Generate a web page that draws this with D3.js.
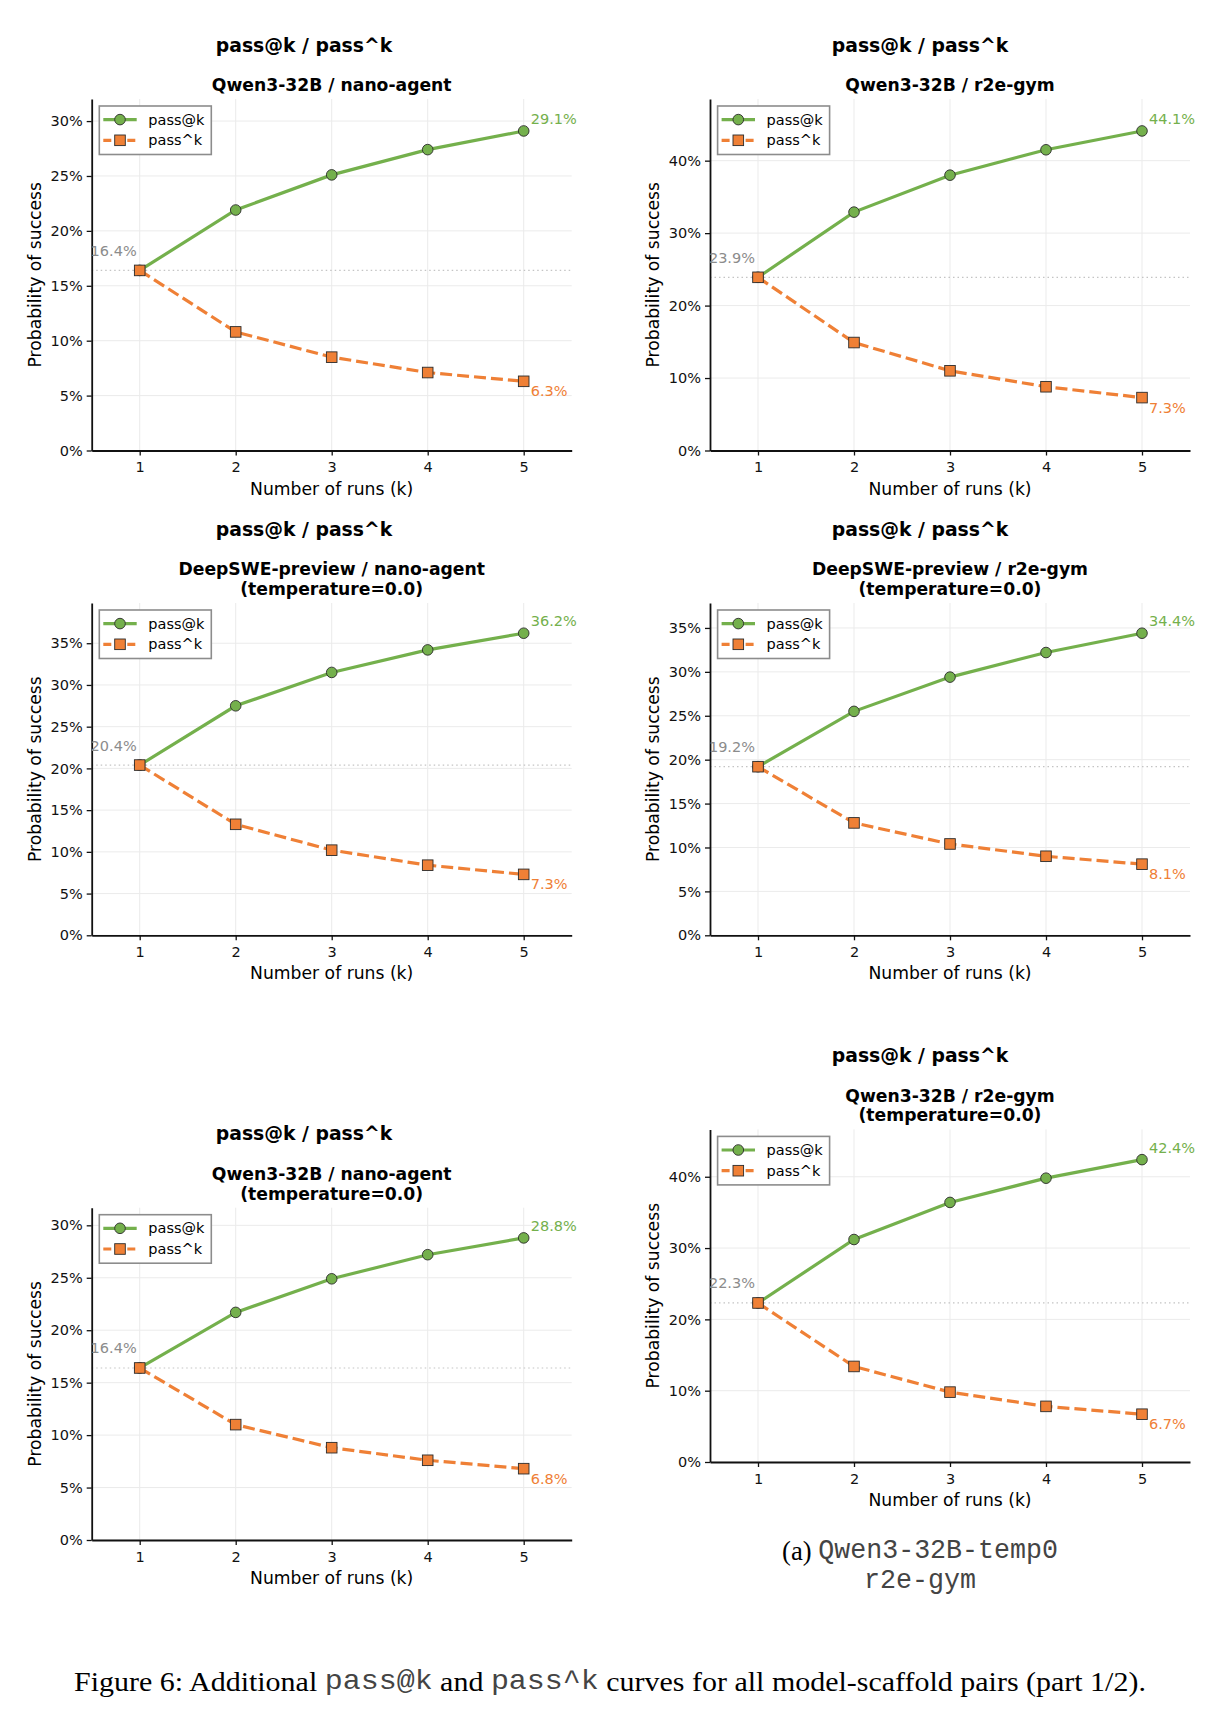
<!DOCTYPE html>
<html lang="en">
<head>
    <meta charset="UTF-8">
    <title>pass@k / pass^k curves</title>
    <style>
        body { margin: 0; background: #fff; }
        svg text { font-family: "DejaVu Sans", sans-serif; }
        .grid line { stroke: #ebebeb; stroke-width: 1px; }
        .axis path, .axis line { stroke: #111; }
        .axis path { stroke-width: 1.8px; }
        .axis line { stroke-width: 1.3px; }
        .axis text { font-size: 14.5px; fill: #111; font-family: "DejaVu Sans", sans-serif; }
        .serif { font-family: "Liberation Serif", serif !important; }
        .mono { font-family: "Liberation Mono", monospace !important; fill: #444; }
    </style>
</head>
<body>
    <svg id="fig" width="1217" height="1715"></svg>

    <script src="https://d3js.org/d3.v7.min.js"></script>
    <script>
        // values (percent)
        const ks = [1, 2, 3, 4, 5];

        const passAtQwenNano = [16.4, 21.9, 25.1, 27.4, 29.1];
        const passHatQwenNano = [16.4, 10.8, 8.5, 7.1, 6.3];

        const passAtQwenR2e = [23.9, 32.9, 38.0, 41.5, 44.1];
        const passHatQwenR2e = [23.9, 14.9, 11.0, 8.8, 7.3];

        const passAtDeepNanoT0 = [20.4, 27.5, 31.5, 34.2, 36.2];
        const passHatDeepNanoT0 = [20.4, 13.3, 10.2, 8.4, 7.3];

        const passAtDeepR2eT0 = [19.2, 25.5, 29.4, 32.2, 34.4];
        const passHatDeepR2eT0 = [19.2, 12.8, 10.4, 9.0, 8.1];

        const passAtQwenNanoT0 = [16.4, 21.7, 24.9, 27.2, 28.8];
        const passHatQwenNanoT0 = [16.4, 11.0, 8.8, 7.6, 6.8];

        const passAtQwenR2eT0 = [22.3, 31.2, 36.4, 39.8, 42.4];
        const passHatQwenR2eT0 = [22.3, 13.4, 9.8, 7.8, 6.7];

        const panelTitles = [
            ["Qwen3-32B / nano-agent"],
            ["Qwen3-32B / r2e-gym"],
            ["DeepSWE-preview / nano-agent", "(temperature=0.0)"],
            ["DeepSWE-preview / r2e-gym", "(temperature=0.0)"],
            ["Qwen3-32B / nano-agent", "(temperature=0.0)"],
            ["Qwen3-32B / r2e-gym", "(temperature=0.0)"]
        ];
        const yTickSteps = [5, 10, 5, 5, 5, 10];
        const seriesNames = ["pass@k", "pass^k"];

        const series = [
            [passAtQwenNano, passHatQwenNano],
            [passAtQwenR2e, passHatQwenR2e],
            [passAtDeepNanoT0, passHatDeepNanoT0],
            [passAtDeepR2eT0, passHatDeepR2eT0],
            [passAtQwenNanoT0, passHatQwenNanoT0],
            [passAtQwenR2eT0, passHatQwenR2eT0]
        ];

        // layout (pixels)
        const colLeft = [91.7, 710];
        const colCenter = [304, 920];
        const axW = 480;
        const layout = [
            { col: 0, top: 99, bottom: 450.5 },
            { col: 1, top: 99, bottom: 450.5 },
            { col: 0, top: 603, bottom: 935.3 },
            { col: 1, top: 603, bottom: 935.3 },
            { col: 0, top: 1207.7, bottom: 1540 },
            { col: 1, top: 1129.4, bottom: 1462 }
        ];

        const green = "#74b04c";
        const orange = "#ef8036";
        const svg = d3.select("#fig");

        svg.append("rect").attr("width", 1217).attr("height", 1715).attr("fill", "#fff");

        function drawPanel(i) {
            const L = layout[i];
            const left = colLeft[L.col];
            const h = L.bottom - L.top;
            const [passAt, passHat] = series[i];

            const x = d3.scaleLinear().domain([0.5, 5.5]).range([0, axW]);
            const y = d3.scaleLinear().domain([0, d3.max(passAt) * 1.1]).range([h, 0]);
            const yTicks = d3.range(0, y.domain()[1], yTickSteps[i]);

            // titles
            const titles = panelTitles[i];
            const lastTitleY = L.top - 14;
            const firstTitleY = lastTitleY - (titles.length - 1) * 19.8;
            svg.append("text")
                .attr("x", colCenter[L.col])
                .attr("y", firstTitleY - 40)
                .attr("text-anchor", "middle")
                .attr("dominant-baseline", "central")
                .style("font-size", "18.8px")
                .style("font-weight", "bold")
                .text("pass@k / pass^k");
            titles.forEach((t, j) => {
                svg.append("text")
                    .attr("x", left + axW / 2)
                    .attr("y", firstTitleY + j * 19.8)
                    .attr("text-anchor", "middle")
                    .attr("dominant-baseline", "central")
                    .style("font-size", "17.2px")
                    .style("font-weight", "bold")
                    .text(t);
            });

            const g = svg.append("g").attr("transform", `translate(${left},${L.top})`);

            const clipId = "clip" + i;
            g.append("clipPath").attr("id", clipId)
                .append("rect").attr("width", axW).attr("height", h);

            // grid
            const grid = g.append("g").attr("class", "grid");
            grid.selectAll(".gx").data(ks).join("line")
                .attr("x1", d => x(d)).attr("x2", d => x(d))
                .attr("y1", 0).attr("y2", h);
            grid.selectAll(".gy").data(yTicks).join("line")
                .attr("x1", 0).attr("x2", axW)
                .attr("y1", d => y(d)).attr("y2", d => y(d));

            // pass@1 reference line
            g.append("line")
                .attr("x1", 0).attr("x2", axW)
                .attr("y1", y(passAt[0])).attr("y2", y(passAt[0]))
                .attr("stroke", "#c4c4c4")
                .attr("stroke-width", 1.2)
                .attr("stroke-dasharray", "1.5,3");

            // axes
            g.append("g").attr("class", "axis")
                .attr("transform", `translate(0,${h})`)
                .call(d3.axisBottom(x).tickValues(ks).tickFormat(d3.format("d"))
                    .tickSize(5).tickSizeOuter(0).tickPadding(6.5));
            g.append("g").attr("class", "axis")
                .call(d3.axisLeft(y).tickValues(yTicks).tickFormat(d => d + "%")
                    .tickSize(5).tickSizeOuter(0).tickPadding(4));

            g.append("text")
                .attr("x", axW / 2)
                .attr("y", h + 38)
                .attr("text-anchor", "middle")
                .attr("dominant-baseline", "central")
                .style("font-size", "17.2px")
                .text("Number of runs (k)");
            g.append("text")
                .attr("transform", `translate(-57,${h / 2}) rotate(-90)`)
                .attr("text-anchor", "middle")
                .attr("dominant-baseline", "central")
                .style("font-size", "17.2px")
                .text("Probability of success");

            // lines
            const line = d3.line().x((d, j) => x(ks[j])).y(d => y(d));
            g.append("path").datum(passAt)
                .attr("d", line)
                .attr("fill", "none")
                .attr("stroke", green)
                .attr("stroke-width", 3.2);
            g.selectAll(".dotAt").data(passAt).join("circle")
                .attr("cx", (d, j) => x(ks[j]))
                .attr("cy", d => y(d))
                .attr("r", 5.3)
                .attr("fill", green)
                .attr("stroke", "#2b2b2b")
                .attr("stroke-width", 0.9);

            g.append("path").datum(passHat)
                .attr("d", line)
                .attr("fill", "none")
                .attr("stroke", orange)
                .attr("stroke-width", 3.2)
                .attr("stroke-dasharray", "12,5");
            g.selectAll(".sqHat").data(passHat).join("rect")
                .attr("x", (d, j) => x(ks[j]) - 5.3)
                .attr("y", d => y(d) - 5.3)
                .attr("width", 10.6)
                .attr("height", 10.6)
                .attr("fill", orange)
                .attr("stroke", "#2b2b2b")
                .attr("stroke-width", 0.9);

            // value labels
            const last = ks.length - 1;
            g.append("text")
                .attr("x", x(ks[last]) + 7)
                .attr("y", y(passAt[last]) - 7)
                .attr("fill", green)
                .style("font-size", "14.5px")
                .text(passAt[last].toFixed(1) + "%");
            g.append("text")
                .attr("x", x(ks[last]) + 7)
                .attr("y", y(passHat[last]) + 15)
                .attr("fill", orange)
                .style("font-size", "14.5px")
                .text(passHat[last].toFixed(1) + "%");
            g.append("text")
                .attr("clip-path", `url(#${clipId})`)
                .attr("x", x(ks[0]) - 3)
                .attr("y", y(passAt[0]) - 14.5)
                .attr("text-anchor", "end")
                .attr("fill", "#8c8c8c")
                .style("font-size", "14.5px")
                .text(passAt[0].toFixed(1) + "%");

            // legend
            const lg = g.append("g").attr("transform", "translate(7.6,7)");
            lg.append("rect")
                .attr("width", 112).attr("height", 48.5)
                .attr("fill", "#fff")
                .attr("stroke", "#8c8c8c")
                .attr("stroke-width", 1.6);
            seriesNames.forEach((name, j) => {
                const ry = 13.6 + j * 20.7;
                const col = j === 0 ? green : orange;
                lg.append("line")
                    .attr("x1", 4).attr("x2", 37.4)
                    .attr("y1", ry).attr("y2", ry)
                    .attr("stroke", col)
                    .attr("stroke-width", 3.2)
                    .attr("stroke-dasharray", j === 0 ? null : "8,4");
                if (j === 0) {
                    lg.append("circle").attr("cx", 20.7).attr("cy", ry).attr("r", 5.3)
                        .attr("fill", col).attr("stroke", "#2b2b2b").attr("stroke-width", 0.9);
                } else {
                    lg.append("rect").attr("x", 15.4).attr("y", ry - 5.3).attr("width", 10.6).attr("height", 10.6)
                        .attr("fill", col).attr("stroke", "#2b2b2b").attr("stroke-width", 0.9);
                }
                lg.append("text")
                    .attr("x", 49).attr("y", ry)
                    .attr("dominant-baseline", "central")
                    .style("font-size", "14.5px")
                    .text(name);
            });
        }

        d3.range(6).forEach(drawPanel);

        // captions, squeezed to the widths seen in the figure
        function caption(parts, cx, cy, width, size) {
            const t = svg.append("text")
                .attr("text-anchor", "middle")
                .attr("dominant-baseline", "central")
                .style("font-size", size + "px");
            parts.forEach(p => {
                t.append("tspan").attr("class", p[1]).text(p[0]);
            });
            const w = t.node().getBBox().width;
            t.attr("transform", `translate(${cx},${cy}) scale(${width / w},1)`);
        }

        caption([["(a) ", "serif"], ["Qwen3-32B-temp0", "mono"]], 920, 1550.7, 276, 27);
        caption([["r2e-gym", "mono"]], 920, 1581, 112, 27);
        caption([
            ["Figure 6: Additional ", "serif"], ["pass@k", "mono"], [" and ", "serif"],
            ["pass^k", "mono"], [" curves for all model-scaffold pairs (part 1/2).", "serif"]
        ], 610, 1681.6, 1072, 28);
    </script>
</body>
</html>
